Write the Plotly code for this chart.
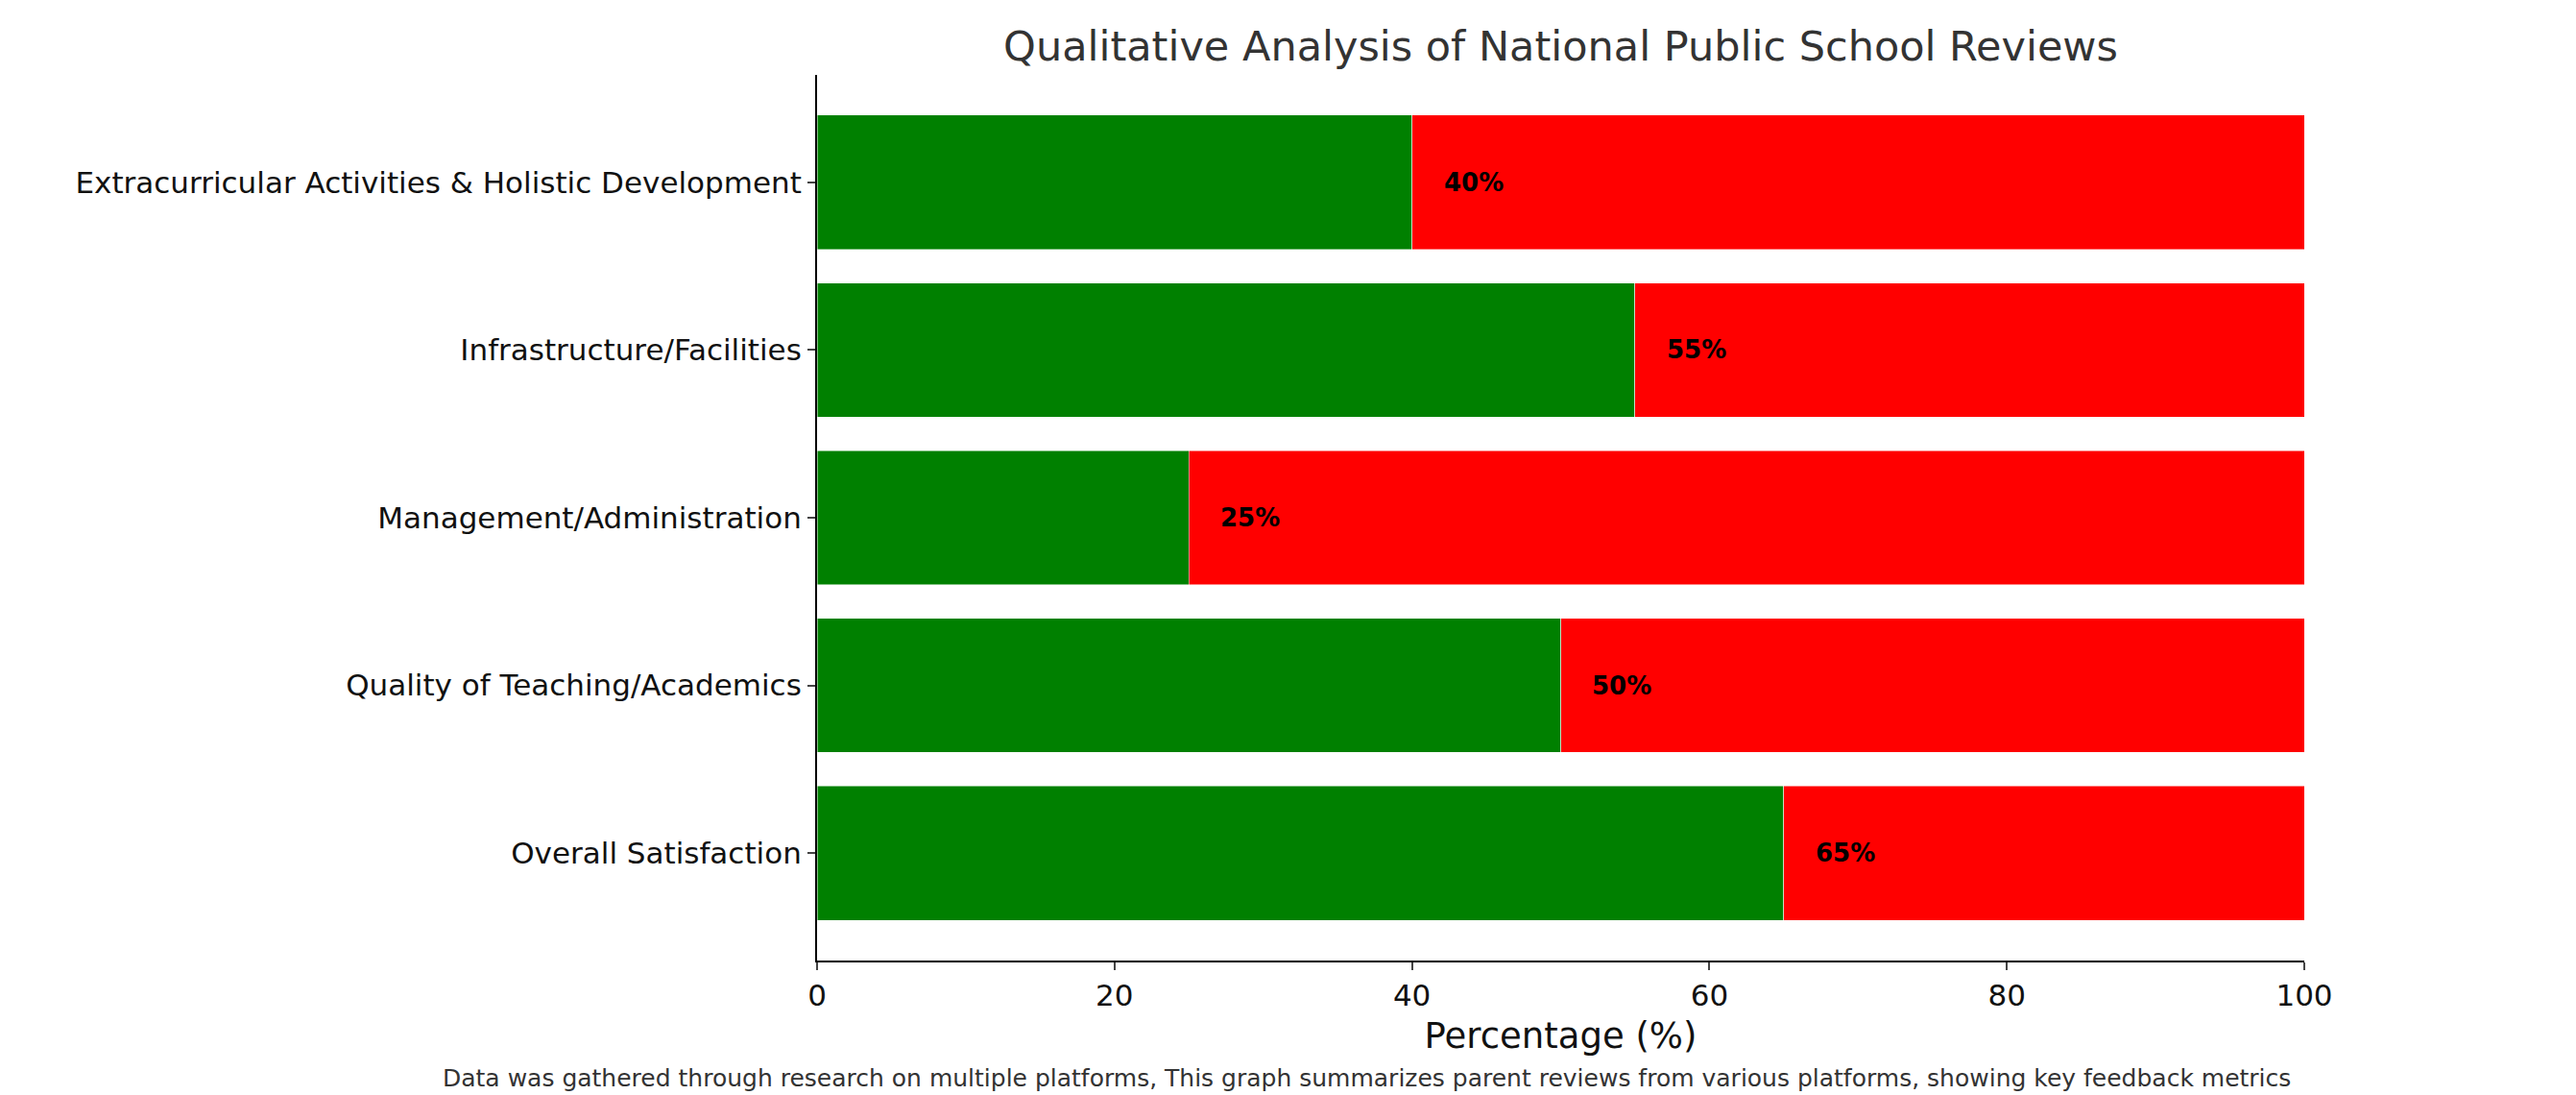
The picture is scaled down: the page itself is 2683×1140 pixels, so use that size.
import plotly.graph_objects as go

categories = ["Overall Satisfaction", "Quality of Teaching/Academics",
              "Management/Administration", "Infrastructure/Facilities",
              "Extracurricular Activities & Holistic Development"]
positive = [65, 50, 25, 55, 40]
negative = [35, 50, 75, 45, 60]

font = "DejaVu Sans"
fig = go.Figure()
fig.add_bar(y=categories, x=positive, orientation="h", marker_color="#008000",
            width=0.8, name="Positive", hoverinfo="x+y")
fig.add_bar(y=categories, x=negative, orientation="h", marker_color="#ff0000",
            width=0.8, name="Negative", hoverinfo="x+y")

for c, p, n in zip(categories, positive, negative):
    fig.add_annotation(x=p + 2, y=c, text=f"<b>{p}%</b>", showarrow=False,
                       xanchor="left", font=dict(size=26, color="black", family=font))
    fig.add_annotation(x=102, y=c, text=f"<b>{n}%</b>", showarrow=False,
                       xanchor="left", font=dict(size=26, color="black", family=font))

fig.add_annotation(xref="paper", yref="paper", x=2662 / 2683, y=-0.115,
                   xanchor="right", yanchor="top", showarrow=False,
                   text="Data was gathered through research on multiple platforms, This graph summarizes parent reviews from various platforms, showing key feedback metrics",
                   font=dict(size=25, color="#333333", family=font))

fig.update_layout(
    barmode="stack", showlegend=False, template="plotly_white",
    width=2683, height=1140, plot_bgcolor="white",
    margin=dict(l=843, r=291, t=70, b=148),
    font=dict(family=font, size=31, color="#111111"),
    title=dict(text="Qualitative Analysis of National Public School Reviews",
               x=0.5, xref="paper", xanchor="center", y=0.965, yanchor="middle",
               font=dict(size=43, color="#333333", family=font)),
    xaxis=dict(range=[0, 100], dtick=20, showgrid=False, zeroline=False,
               showline=True, linecolor="black", linewidth=2, ticks="outside",
               ticklen=8, tickwidth=2, title=dict(text="Percentage (%)", standoff=12),
               tickfont=dict(size=31)),
    yaxis=dict(range=[-0.64, 4.64], showgrid=False, zeroline=False,
               showline=True, linecolor="black", linewidth=2, ticks="outside",
               ticklen=8, tickwidth=2, tickfont=dict(size=31)),
)

fig.write_html("out.html")
